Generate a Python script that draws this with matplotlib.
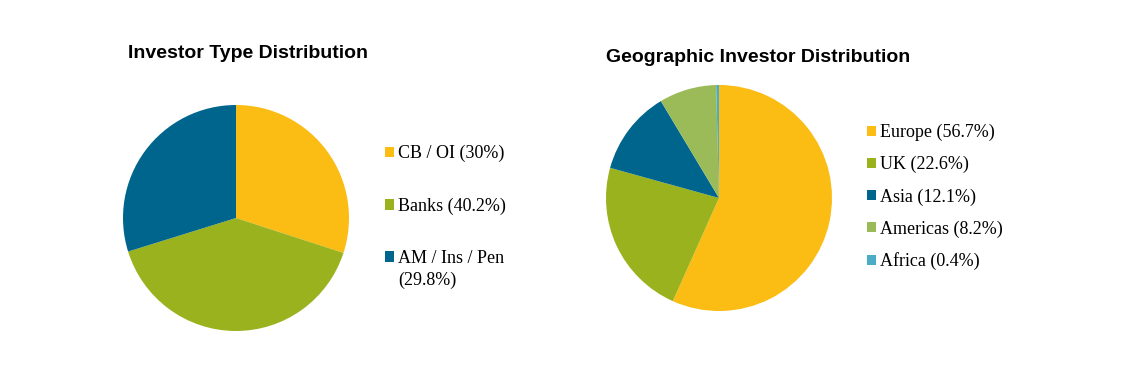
import matplotlib.pyplot as plt

# investor type
type_labels = ["CB / OI (30%)", "Banks (40.2%)", "AM / Ins / Pen\n(29.8%)"]
type_values = [30.0, 40.2, 29.8]
type_colors = ["#FBBC13", "#9BB21F", "#00658C"]

# geography
geo_labels = ["Europe (56.7%)", "UK (22.6%)", "Asia (12.1%)", "Americas (8.2%)", "Africa (0.4%)"]
geo_values = [56.7, 22.6, 12.1, 8.2, 0.4]
geo_colors = ["#FBBC13", "#9BB21F", "#00658C", "#9BBB59", "#4BACC6"]

W, H = 1140, 392
fig = plt.figure(figsize=(W / 100, H / 100), dpi=100)


def pie_at(cx, cy, r, values, colors):
    ax = fig.add_axes([(cx - r) / W, (H - cy - r) / H, 2 * r / W, 2 * r / H])
    wedges, _ = ax.pie(values, colors=colors, startangle=90, counterclock=False,
                       radius=1, wedgeprops=dict(linewidth=0))
    # pie() pads the limits, so reset them afterwards
    ax.set_xlim(-1, 1)
    ax.set_ylim(-1, 1)
    ax.set_aspect("equal")
    ax.axis("off")
    return wedges


w1 = pie_at(236, 218, 113, type_values, type_colors)
w2 = pie_at(719, 198, 113, geo_values, geo_colors)

fig.text(128 / W, 1 - 54 / H, "Investor Type Distribution", fontsize=14,
         fontweight="bold", family="Liberation Sans", va="center", ha="left")
fig.text(606 / W, 1 - 57 / H, "Geographic Investor Distribution", fontsize=14,
         fontweight="bold", family="Liberation Sans", va="center", ha="left")

leg_font = dict(family="Liberation Serif", size=13)

# the marker sits on the first line of a wrapped label, so the wrap goes below as text
first_lines = [lab.split("\n")[0] for lab in type_labels]
fig.legend(w1, first_lines, loc="upper left", bbox_to_anchor=(385 / W, 1 - 145 / H),
           frameon=False, prop=leg_font, handlelength=0.5, handleheight=0.5,
           handletextpad=0.22, labelspacing=1.95, borderpad=0, borderaxespad=0)
fig.text(398 / W, 1 - 280 / H, type_labels[2].split("\n")[1], va="center", ha="left",
         **{"family": "Liberation Serif", "fontsize": 13})

fig.legend(w2, geo_labels, loc="upper left", bbox_to_anchor=(867 / W, 1 - 124 / H),
           frameon=False, prop=leg_font, handlelength=0.5, handleheight=0.5,
           handletextpad=0.22, labelspacing=0.82, borderpad=0, borderaxespad=0)

fig.savefig("out.png", dpi=100)
